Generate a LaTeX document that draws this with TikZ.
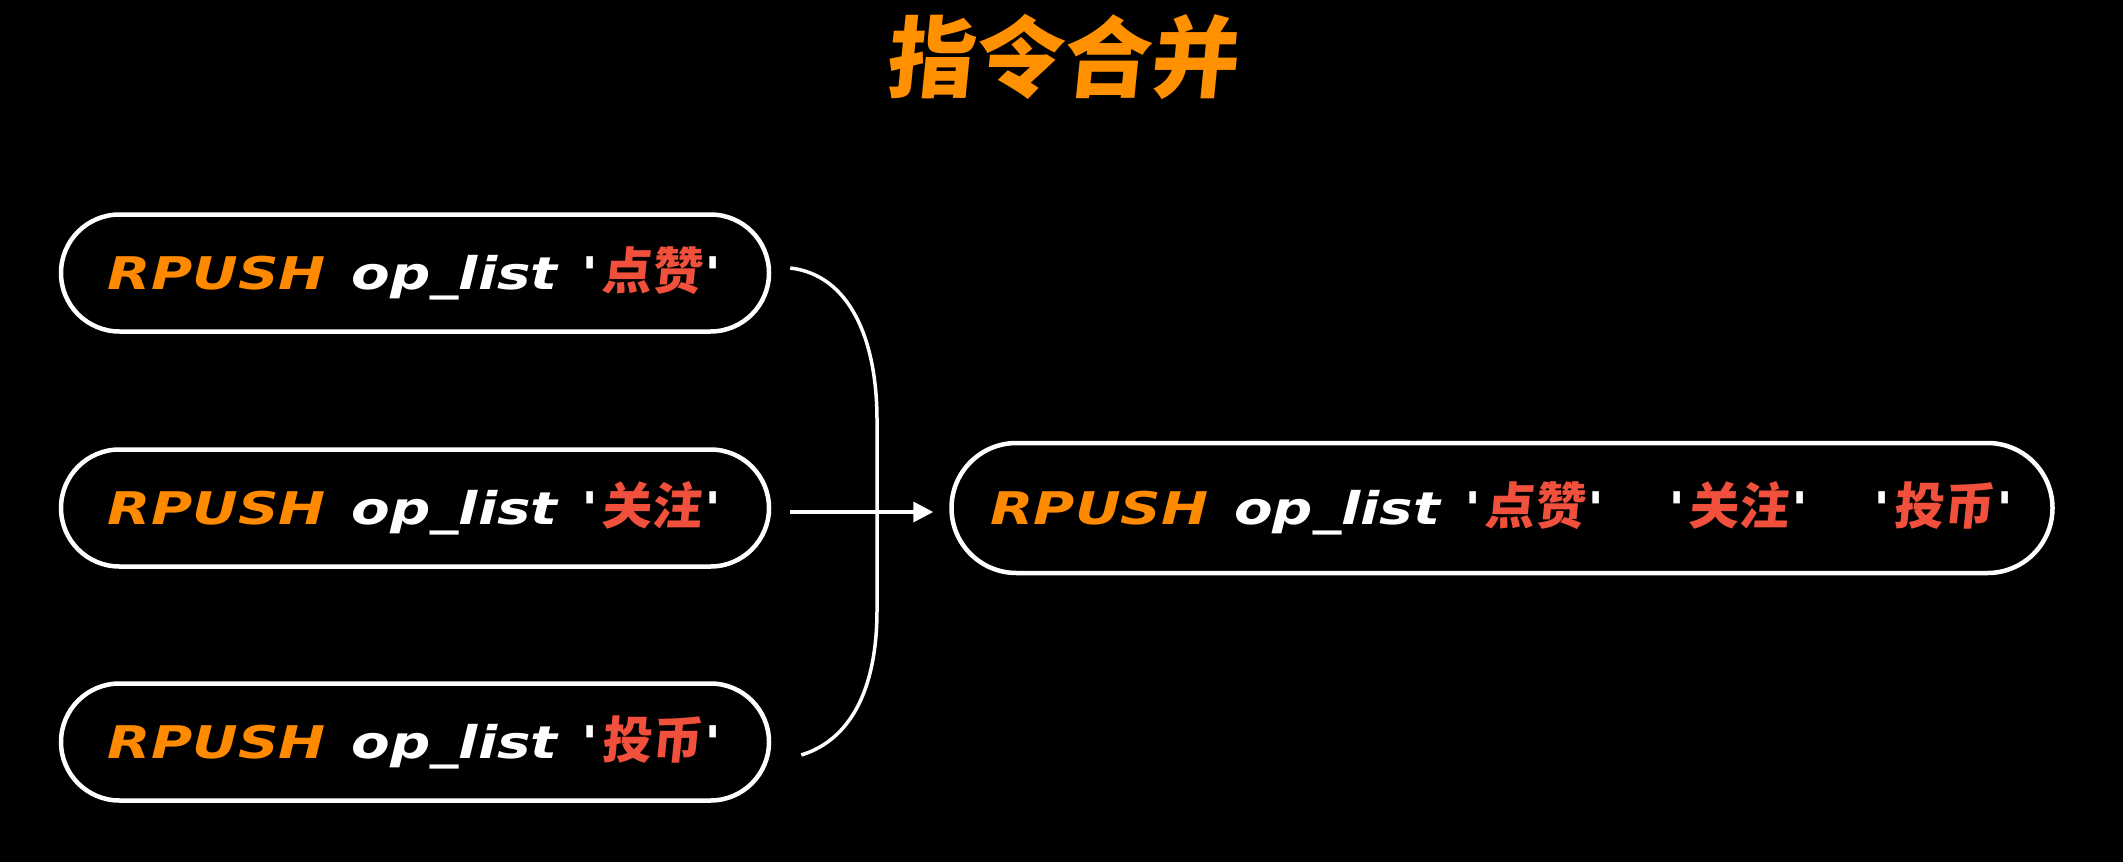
\documentclass[tikz,border=0pt]{standalone}
\usepackage{fontspec}
\usetikzlibrary{arrows.meta,calc,shapes.misc}
\newfontfamily\codefont[FakeStretch=1.25]{DejaVu Sans}
\newfontfamily\cjkfont[FakeSlant=0.1]{Noto Sans CJK SC}
\definecolor{rorange}{HTML}{FF8A00}
\definecolor{torange}{HTML}{FF9000}
\definecolor{rred}{HTML}{F0503C}
\newcommand{\rpcmd}{{\color{rorange}RPUSH}\hspace{26pt}{\color{white}op\_list}\hspace{24pt}}
\newcommand{\zhval}[1]{{\color{white}'}\hspace{3pt}{\cjkfont\bfseries\fontsize{50}{56}\selectfont\color{rred}#1}\hspace{3pt}{\color{white}'}}
\tikzset{
  pill/.style={rounded rectangle, draw=white, line width=4.5pt, fill=black,
    inner sep=0pt, minimum width=708pt, minimum height=117pt,
    font=\codefont\bfseries\itshape\fontsize{45}{52}\selectfont, text=white},
  bigpill/.style={pill, minimum width=1101pt, minimum height=130pt},
  link/.style={draw=white, line width=3.5pt},
  titletext/.style={font=\cjkfont\bfseries\fontsize{88}{100}\selectfont, text=torange}
}
\begin{document}
\begin{tikzpicture}[x=1pt,y=-1pt]
\fill[black] (0,0) rectangle (2123,862);
\useasboundingbox (0,0) rectangle (2123,862);
\node[titletext] (title) at (1061,57) {指令合并};
\node[pill] (b1) at (415,273) {\rpcmd\zhval{点赞}};
\node[pill] (b2) at (415,508) {\rpcmd\zhval{关注}};
\node[pill] (b3) at (415,742) {\rpcmd\zhval{投币}};
\node[bigpill] (b4) at (1502,508) {\rpcmd\zhval{点赞}\hspace{64pt}\zhval{关注}\hspace{64pt}\zhval{投币}};
\coordinate (c1) at ($(b1.east)+(19,-5)$);
\coordinate (c3) at ($(b3.east)+(30,13)$);
\coordinate (a1) at ($(b2.east)+(19,4)$);
\coordinate (a2) at ($(b4.west)+(-16,4)$);
\draw[link] (c1) .. controls (850,275) and (877,340) .. (877,420)
  -- (877,610) .. controls (877,690) and (850,740) .. (c3);
\draw[link,-{Triangle[length=20pt,width=20pt]}] (a1) -- (a2);
\end{tikzpicture}
\end{document}
